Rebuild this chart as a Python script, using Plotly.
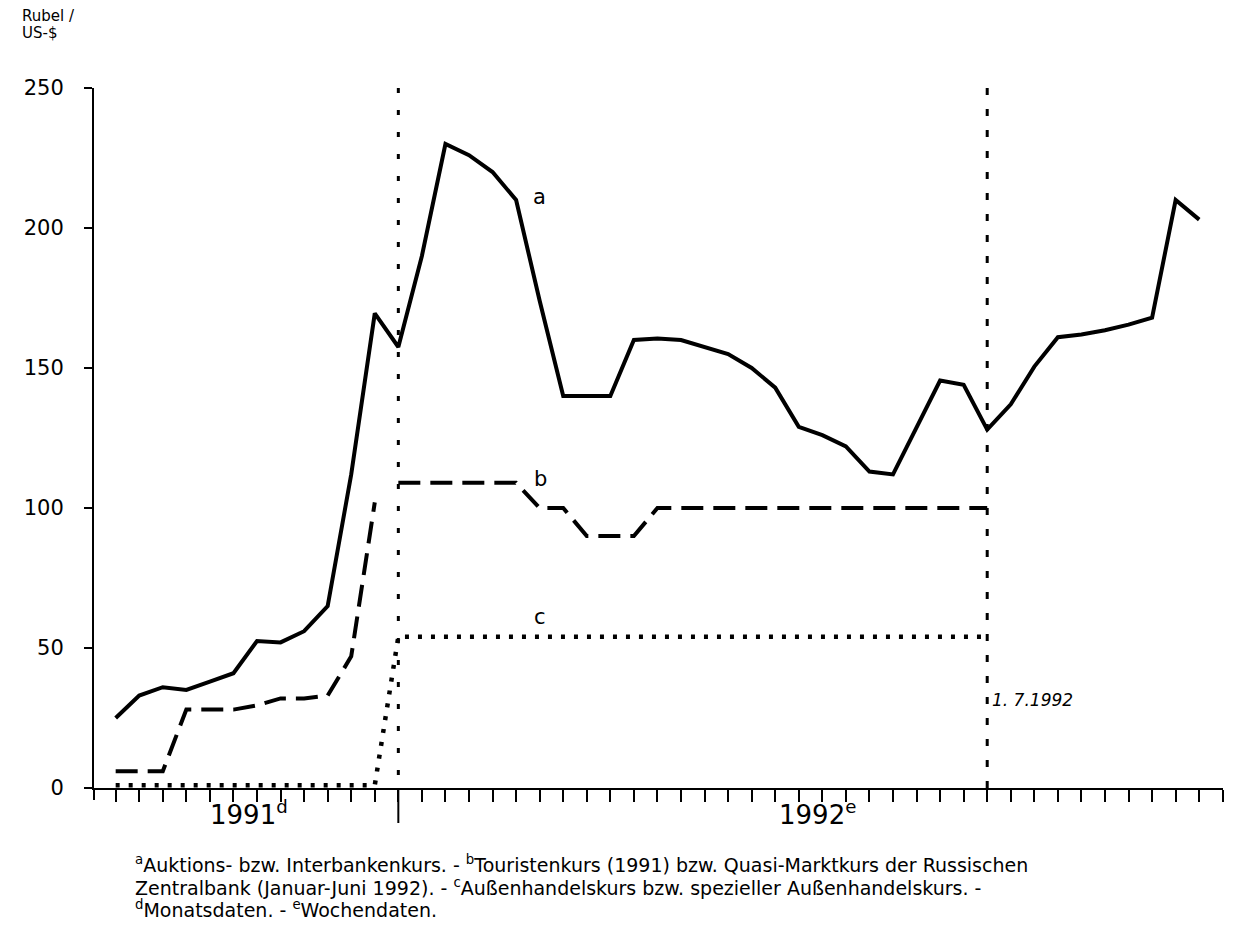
import plotly.graph_objects as go

# ---- data (x = position index: 0..11 = months 1991, 12.. = weeks 1992) ----
x_1991 = list(range(0, 12))
x_1992_a = list(range(12, 47))
x_1992_bc = list(range(12, 38))

a_1991 = [25, 33, 36, 35, 38, 41, 52.5, 52, 56, 65, 112, 169.5]
a_1992 = [157.5, 190, 230, 226, 220, 210, 174, 140, 140, 140, 160, 160.5, 160,
          157.5, 155, 150, 143, 129, 126, 122, 113, 112, 129, 145.5, 144, 128,
          137, 150.5, 161, 162, 163.5, 165.5, 168, 210, 203]

b_1991 = [6, 6, 6, 28, 28, 28, 29.5, 32, 32, 33, 47, 102]
b_1992 = [109, 109, 109, 109, 109, 109, 100, 100, 90, 90, 90, 100, 100, 100,
          100, 100, 100, 100, 100, 100, 100, 100, 100, 100, 100, 100]

c_1991 = [1, 1, 1, 1, 1, 1, 1, 1, 1, 1, 1, 1]
c_1992 = [54, 54, 54, 54, 54, 54, 54, 54, 54, 54, 54, 54, 54, 54, 54, 54, 54,
          54, 54, 54, 54, 54, 54, 54, 54, 54]

y_ticks = [0, 50, 100, 150, 200, 250]
x_ticks = list(range(0, 48))
year_break = 12
date_mark = 37

FONT = "DejaVu Sans"
BLACK = "#000000"

# page body has an 8px margin; the plot area is placed at 94..1223 x 88..788
BODY = 8
ML, MR, MT, MB = 94 - BODY, 26, 88 - BODY, 133
W, H = 1257 - 2 * BODY, 929 - 2 * BODY
PW, PH = 1129, 700


def px_x(px):
    return (px - 94) / PW


def px_y(py):
    return (788 - py) / PH


fig = go.Figure()

fig.add_trace(go.Scatter(x=x_1991 + x_1992_a, y=a_1991 + a_1992, mode="lines",
                         line=dict(color=BLACK, width=4), showlegend=False))
fig.add_trace(go.Scatter(x=x_1991, y=b_1991, mode="lines",
                         line=dict(color=BLACK, width=4, dash="22px,10px"),
                         showlegend=False))
fig.add_trace(go.Scatter(x=x_1992_bc, y=b_1992, mode="lines",
                         line=dict(color=BLACK, width=4, dash="22px,10px"),
                         showlegend=False))
fig.add_trace(go.Scatter(x=x_1991 + x_1992_bc, y=c_1991 + c_1992, mode="lines",
                         line=dict(color=BLACK, width=4.5, dash="4px,9px"),
                         showlegend=False))

# vertical reference lines
fig.add_shape(type="line", x0=year_break, x1=year_break, y0=250, y1=0,
              xref="x", yref="y", line=dict(color=BLACK, width=3, dash="5px,17px"))
fig.add_shape(type="line", x0=date_mark, x1=date_mark, y0=250, y1=0,
              xref="x", yref="y", line=dict(color=BLACK, width=3, dash="7px,14px"))
# long tick at year boundary
fig.add_shape(type="line", x0=year_break, x1=year_break, y0=0, y1=-0.05,
              xref="x", yref="paper", line=dict(color=BLACK, width=2))
# y axis line extends slightly below x axis
fig.add_shape(type="line", x0=0, x1=0, y0=0, y1=-0.017,
              xref="paper", yref="paper", line=dict(color=BLACK, width=2))

ann = []
ann.append(dict(text="Rubel /", x=px_x(20), y=px_y(5), xref="paper", yref="paper",
                xanchor="left", yanchor="top", align="left", showarrow=False,
                font=dict(family=FONT, size=15, color=BLACK)))
ann.append(dict(text="US-$", x=px_x(20), y=px_y(22), xref="paper", yref="paper",
                xanchor="left", yanchor="top", align="left", showarrow=False,
                font=dict(family=FONT, size=15, color=BLACK)))
for t, xv, yv in [("a", 18.0, 211), ("b", 18.05, 110.5), ("c", 18.0, 61)]:
    ann.append(dict(text=t, x=xv, y=yv, xref="x", yref="y", showarrow=False,
                    xanchor="center", yanchor="middle",
                    font=dict(family=FONT, size=21, color=BLACK)))
ann.append(dict(text="<i>1. 7.1992</i>", x=date_mark + 0.12, y=31.5, xref="x", yref="y",
                showarrow=False, xanchor="left", yanchor="middle",
                font=dict(family=FONT, size=17, color=BLACK)))
ann.append(dict(text="1991<sup>d</sup>", x=5.65, y=px_y(794), xref="x", yref="paper",
                showarrow=False, xanchor="center", yanchor="top",
                font=dict(family=FONT, size=26, color=BLACK)))
ann.append(dict(text="1992<sup>e</sup>", x=29.8, y=px_y(794), xref="x", yref="paper",
                showarrow=False, xanchor="center", yanchor="top",
                font=dict(family=FONT, size=26, color=BLACK)))

foot = [
    "<sup>a</sup>Auktions- bzw. Interbankenkurs. - <sup>b</sup>Touristenkurs (1991) bzw. Quasi-Marktkurs der Russischen",
    "Zentralbank (Januar-Juni 1992). - <sup>c</sup>Außenhandelskurs bzw. spezieller Außenhandelskurs. -",
    "<sup>d</sup>Monatsdaten. - <sup>e</sup>Wochendaten.",
]
foot_y = [864, 886.5, 909]
for t, py in zip(foot, foot_y):
    ann.append(dict(text=t, x=px_x(133), y=px_y(py), xref="paper", yref="paper",
                    showarrow=False, xanchor="left", yanchor="middle", align="left",
                    font=dict(family=FONT, size=19, color=BLACK)))

fig.update_layout(
    width=W, height=H,
    margin=dict(l=ML, r=MR, t=MT, b=MB, pad=0),
    paper_bgcolor="white", plot_bgcolor="white",
    annotations=ann,
    xaxis=dict(range=[-0.92, 47.01], tickvals=x_ticks, showticklabels=False,
               ticks="outside", ticklen=12, tickwidth=2, tickcolor=BLACK,
               showline=True, linecolor=BLACK, linewidth=2, showgrid=False,
               zeroline=False),
    yaxis=dict(range=[0, 250], tickvals=y_ticks, ticks="outside", ticklen=8,
               tickwidth=2, tickcolor=BLACK, showline=True, linecolor=BLACK,
               linewidth=2, showgrid=False, zeroline=False,
               ticklabelstandoff=16,
               tickfont=dict(family=FONT, size=21, color=BLACK)),
)

fig.write_html("out.html")
